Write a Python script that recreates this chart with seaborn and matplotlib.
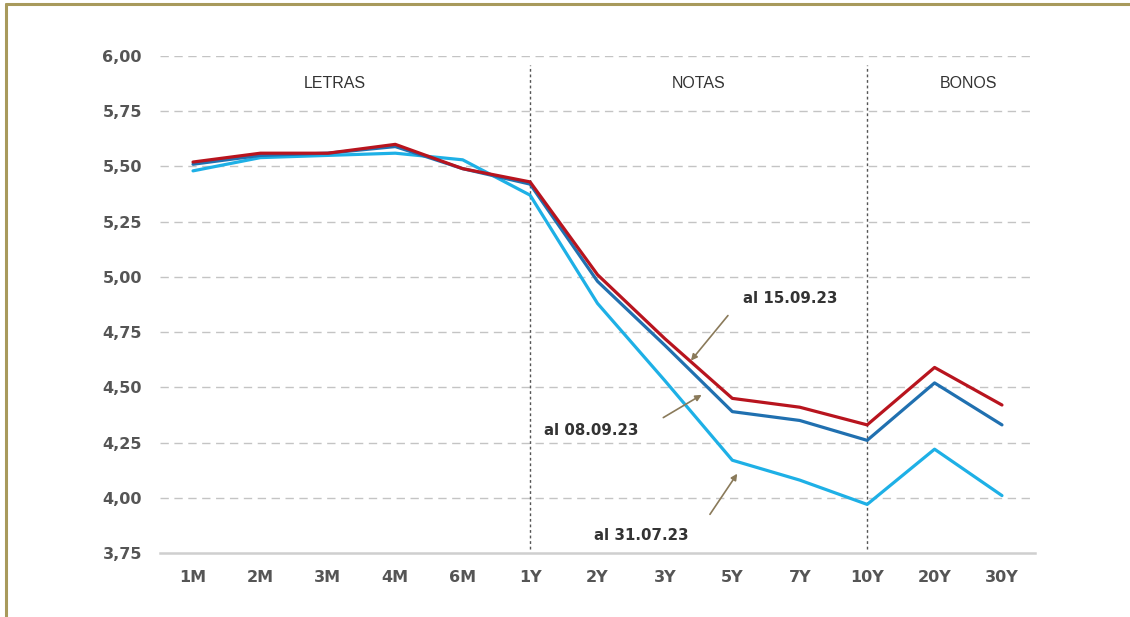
import matplotlib
matplotlib.use("Agg")
import matplotlib.pyplot as plt
import seaborn as sns
import pandas as pd
from matplotlib.lines import Line2D

tenors = ["1M", "2M", "3M", "4M", "6M", "1Y", "2Y", "3Y", "5Y", "7Y", "10Y", "20Y", "30Y"]
al_15_09_23 = [5.52, 5.56, 5.56, 5.60, 5.49, 5.43, 5.01, 4.72, 4.45, 4.41, 4.33, 4.59, 4.42]
al_08_09_23 = [5.51, 5.55, 5.56, 5.59, 5.49, 5.42, 4.98, 4.69, 4.39, 4.35, 4.26, 4.52, 4.33]
al_31_07_23 = [5.48, 5.54, 5.55, 5.56, 5.53, 5.37, 4.88, 4.53, 4.17, 4.08, 3.97, 4.22, 4.01]
series_names = ["al 15.09.23", "al 08.09.23", "al 31.07.23"]
section_labels = ["LETRAS", "NOTAS", "BONOS"]
y_ticks = [3.75, 4.00, 4.25, 4.50, 4.75, 5.00, 5.25, 5.50, 5.75, 6.00]

sns.set_theme(style="white")
plt.rcParams['font.family'] = ['DejaVu Sans']

rows = []
for name, vals in zip(series_names, [al_15_09_23, al_08_09_23, al_31_07_23]):
    for i, (t, v) in enumerate(zip(tenors, vals)):
        rows.append({"pos": i, "tenor": t, "serie": name, "valor": v})
df = pd.DataFrame(rows)

fig = plt.figure(figsize=(11.3, 6.17), dpi=100)
ax = fig.add_axes([160/1130, 1-553/617, 875/1130, (553-56)/617])

palette = {"al 15.09.23": "#b8141e", "al 08.09.23": "#2070b0", "al 31.07.23": "#1eb0e6"}
order = ["al 31.07.23", "al 08.09.23", "al 15.09.23"]
for name in order:
    sub = df[df["serie"] == name]
    sns.lineplot(data=sub, x="pos", y="valor", color=palette[name], linewidth=2.3, ax=ax,
                 legend=False, zorder=3)

ax.set_xlim(-0.49, 12.49)
ax.set_ylim(3.75, 6.00)
ax.set_yticks(y_ticks)
ax.set_yticklabels([f"{v:.2f}".replace(".", ",") for v in y_ticks])
ax.set_xticks(range(len(tenors)))
ax.set_xticklabels(tenors)
ax.set_xlabel("")
ax.set_ylabel("")

for v in y_ticks[1:]:
    ax.axhline(v, color="#c4c4c4", linestyle=(0, (6, 4)), linewidth=1.0, zorder=1)

for s in ["top", "right", "left"]:
    ax.spines[s].set_visible(False)
ax.spines["bottom"].set_color("#cfcfcf")
ax.spines["bottom"].set_linewidth(1.8)

ax.tick_params(axis="both", length=0, labelsize=11.5, labelcolor="#555555")
ax.tick_params(axis="y", pad=13)
ax.tick_params(axis="x", pad=12)
for lab in ax.get_xticklabels() + ax.get_yticklabels():
    lab.set_fontweight("bold")

for xv in [5, 10]:
    ax.vlines(xv, 3.77, 5.96, colors="#555555", linestyles=(0, (2, 2)), linewidth=1.0, zorder=2)

sec_x = [2.1, 7.5, 11.5]
for lab, xv in zip(section_labels, sec_x):
    ax.text(xv, 5.875, lab, ha="center", va="center", fontsize=11.5, color="#333333",
            family="Liberation Sans")

arrow_kw = dict(arrowstyle="-|>", color="#8a7a5a", linewidth=1.2, mutation_scale=9,
                shrinkA=0, shrinkB=0)
# arrows (tail -> head)
ax.annotate("", xy=(7.386, 4.621), xytext=(7.935, 4.825), arrowprops=arrow_kw)
ax.annotate("", xy=(7.545, 4.466), xytext=(6.976, 4.363), arrowprops=arrow_kw)
ax.annotate("", xy=(8.073, 4.109), xytext=(7.668, 3.925), arrowprops=arrow_kw)

txt_kw = dict(ha="center", va="center", fontsize=10.8, fontweight="bold", color="#333333")
ax.text(8.855, 4.902, series_names[0], **txt_kw)
ax.text(5.903, 4.303, series_names[1], **txt_kw)
ax.text(6.645, 3.827, series_names[2], **txt_kw)

frame_color = "#a89a5c"
fig.add_artist(Line2D([6/1130, 6/1130], [0, 1-4/617], color=frame_color, linewidth=2.2,
                      transform=fig.transFigure))
fig.add_artist(Line2D([6/1130, 1.0], [1-4/617, 1-4/617], color=frame_color, linewidth=2.2,
                      transform=fig.transFigure))

fig.savefig("out.png", dpi=100, facecolor="white")
